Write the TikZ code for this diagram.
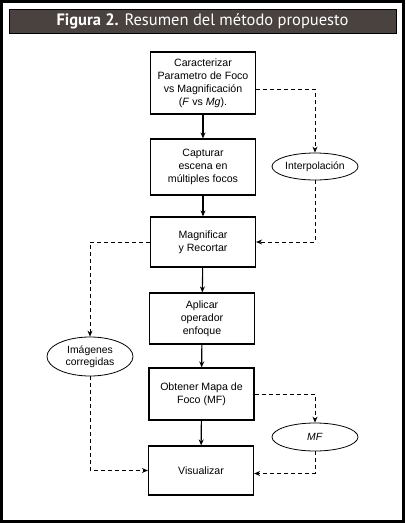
\documentclass[tikz,border=0pt]{standalone}
\usepackage{fontspec}
\setmainfont{Liberation Sans}
\newfontfamily\titlefont{PT Sans}
\usetikzlibrary{positioning,shapes.geometric,arrows.meta}
\definecolor{titlegray}{RGB}{74,66,63}

\begin{document}
\begin{tikzpicture}[
    x=1pt, y=-1pt,
    every node/.style={font=\fontsize{10.6}{13}\selectfont, align=center},
    box/.style={rectangle, draw=black, line width=1.2pt, minimum width=105pt, inner sep=2pt},
    oval/.style={ellipse, draw=black, line width=0.8pt, minimum width=86pt, inner sep=0pt, font=\fontsize{10.4}{12.5}\selectfont},
    arr/.style={-{Stealth[length=6pt,width=5pt]}, line width=1.1pt},
    darr/.style={-{Stealth[length=6pt,width=5pt]}, line width=0.8pt, dash pattern=on 4pt off 3pt}
]
\useasboundingbox (0,0) rectangle (405,523);
% frame and title
\draw[line width=3pt] (1.5,1.5) rectangle (403.5,521.5);
\node[fill=titlegray, draw=black, line width=0.6pt, minimum width=387pt, minimum height=24pt,
      inner sep=0pt, text=white, font=\titlefont\fontsize{16.5}{18}\selectfont] (title) at (202.5,21)
    {\textbf{Figura 2.} Resumen del método propuesto};

% main chain
\node[box, minimum height=62pt] (car) at (203,83)
    {Caracterizar\\Parametro de Foco\\vs Magnificación\\(\textit{F} vs \textit{Mg}).};
\node[box, minimum height=56pt] (cap) at (203,167) {Capturar\\escena en\\múltiples focos};
\node[box, minimum height=50pt] (mag) at (203,242) {Magnificar\\y Recortar};
\node[box, minimum height=51pt] (apl) at (202,318.5) {Aplicar\\operador\\enfoque};
\node[box, minimum height=52pt] (obt) at (201.5,394) {Obtener Mapa de\\Foco (MF)};
\node[box, minimum height=49pt] (vis) at (201,470.5) {Visualizar};

% side ovals
\node[oval, minimum height=27pt] (interp) at (315,166.5) {Interpolación};
\node[oval, minimum height=39pt] (img) at (90,356.5) {Imágenes\\corregidas};
\node[oval, minimum height=28pt] (mf) at (315,437) {\textit{MF}};

\draw[arr] (car) -- (cap);
\draw[arr] (cap) -- (mag);
\draw[arr] (mag) -- (apl);
\draw[arr] (apl) -- (obt);
\draw[arr] (obt) -- (vis);

\draw[darr] ([yshift=-6pt]car.east) -| (interp.north);
\draw[darr] (interp.south) |- (mag.east);
\draw[darr] (mag.west) -| (img.north);
\draw[darr] (img.south) |- (vis.west);
\draw[darr] (obt.east) -| (mf.north);
\draw[darr] (mf.south) |- ([yshift=-3pt]vis.east);
\end{tikzpicture}
\end{document}
